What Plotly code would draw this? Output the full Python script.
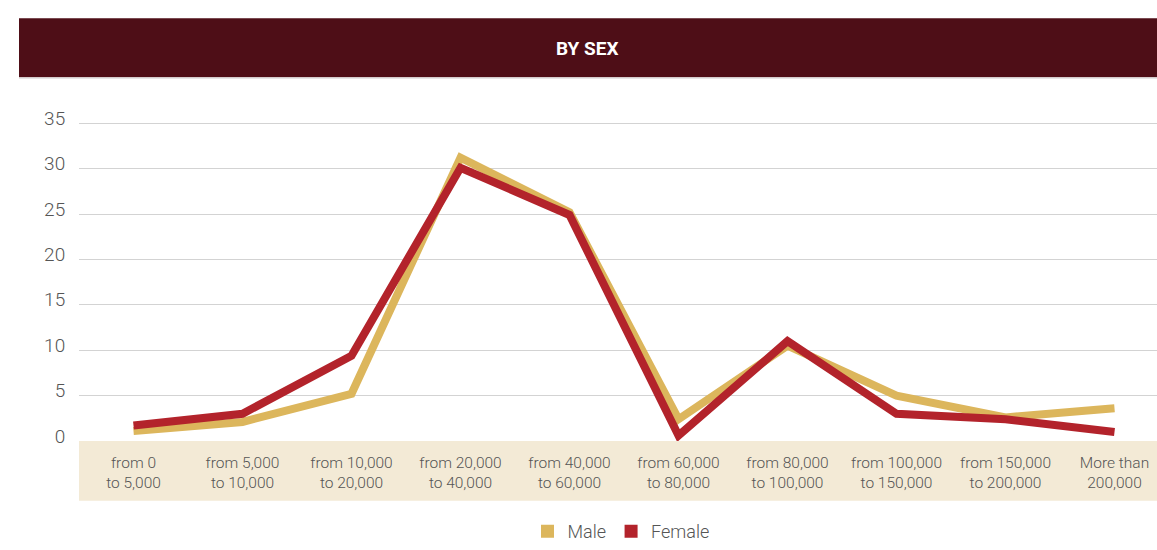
import plotly.graph_objects as go

categories = [
    "from 0<br>to 5,000", "from 5,000<br>to 10,000", "from 10,000<br>to 20,000",
    "from 20,000<br>to 40,000", "from 40,000<br>to 60,000", "from 60,000<br>to 80,000",
    "from 80,000<br>to 100,000", "from 100,000<br>to 150,000", "from 150,000<br>to 200,000",
    "More than<br>200,000",
]
male = [1.1, 2.1, 5.2, 31.2, 25.2, 2.4, 10.5, 5.0, 2.6, 3.6]
female = [1.7, 3.0, 9.4, 30.1, 24.9, 0.6, 11.0, 3.0, 2.4, 1.0]
y_ticks = [0, 5, 10, 15, 20, 25, 30, 35]

MALE_C = "#dcb65c"
FEMALE_C = "#b3232b"
TEXT_C = "#555555"

W, H = 1157, 550
Y_TOP = 35.25
PLOT_TOP = 441.5 - Y_TOP * (441.5 - 123.3) / 35
L, R = 79, 0
T = round(PLOT_TOP)
B = H - 442
PW, PH = W - L - R, H - T - B
step = 109.0


def px_x(x):
    return (x - L) / PW


def px_y(y):
    return (H - B - y) / PH


fig = go.Figure()
fig.add_trace(go.Scatter(x=categories, y=male, mode="lines", name="Male",
                         line=dict(color=MALE_C, width=8), showlegend=False))
fig.add_trace(go.Scatter(x=categories, y=female, mode="lines", name="Female",
                         line=dict(color=FEMALE_C, width=8), showlegend=False))
# legend swatches
fig.add_trace(go.Scatter(x=[None], y=[None], mode="markers", name="Male",
                         marker=dict(symbol="square", size=13, color=MALE_C)))
fig.add_trace(go.Scatter(x=[None], y=[None], mode="markers", name="Female",
                         marker=dict(symbol="square", size=13, color=FEMALE_C)))

shapes = [
    dict(type="rect", xref="paper", yref="paper", x0=0, x1=1,
         y0=px_y(502), y1=0, fillcolor="#f3ead6", line=dict(width=0), layer="between"),
    dict(type="rect", xref="paper", yref="paper", x0=px_x(19), x1=1,
         y0=px_y(77), y1=px_y(18), fillcolor="#4e0e17", line=dict(width=0), layer="above"),
    dict(type="line", xref="paper", yref="paper", x0=px_x(19), x1=1,
         y0=px_y(78), y1=px_y(78), line=dict(color="#d8d8d8", width=1)),
]

fig.update_layout(
    width=W, height=H,
    margin=dict(l=L, r=R, t=T, b=B, pad=0),
    paper_bgcolor="white", plot_bgcolor="white",
    font=dict(family="Roboto, sans-serif", color=TEXT_C),
    shapes=shapes,
    annotations=[dict(text="<b>BY SEX</b>", x=px_x(587), y=px_y(48), xref="paper", yref="paper",
                      xanchor="center", yanchor="middle", showarrow=False,
                      font=dict(color="white", size=19, family="Roboto, sans-serif"))],
    showlegend=True,
    legend=dict(orientation="h", x=px_x(621), xanchor="center", y=px_y(533), yanchor="middle",
                font=dict(size=18, color=TEXT_C, weight=300), itemwidth=30,
                bgcolor="rgba(0,0,0,0)"),
    xaxis=dict(range=[-0.5, -0.5 + PW / step], showgrid=False, zeroline=False, showline=False,
               ticks="outside", ticklen=0, tickfont=dict(size=15.5, color=TEXT_C, weight=300),
               ticklabelstandoff=7, fixedrange=True),
    yaxis=dict(range=[0, Y_TOP], tickvals=y_ticks, showgrid=True, gridcolor="#d3d3d3", gridwidth=1,
               zeroline=False, showline=False, ticks="outside", ticklen=0,
               tickfont=dict(size=19, color=TEXT_C, weight=300), ticklabelstandoff=9,
               ticklabelshift=-5, fixedrange=True),
)

fig.write_html(
    "out.html",
    config={"displayModeBar": False},
    post_script="document.body.style.margin='0';document.body.style.overflow='hidden';",
)
